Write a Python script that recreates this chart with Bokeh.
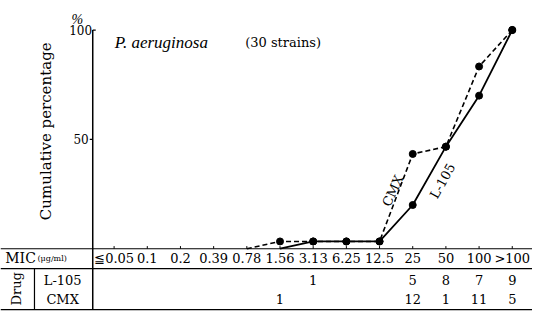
import numpy as np
from bokeh.plotting import figure
from bokeh.models import Range1d
from bokeh.core.properties import value
from bokeh.embed import file_html
from bokeh.resources import INLINE

# ---- data ----
mic_labels = ["≦0.05", "0.1", "0.2", "0.39", "0.78", "1.56", "3.13", "6.25",
              "12.5", "25", "50", "100", ">100"]
l105_counts = [0, 0, 0, 0, 0, 0, 1, 0, 0, 5, 8, 7, 9]
cmx_counts = [0, 0, 0, 0, 0, 1, 0, 0, 0, 12, 1, 11, 5]
n_strains = 30
y_ticks = [50, 100]
y_tick_labels = ["50", "100"]

FONT = value("DejaVu Serif")
IFONT = value("Liberation Serif, serif")


def cumulative(counts):
    c = np.cumsum(counts) / n_strains * 100.0
    first = next(i for i, v in enumerate(counts) if v > 0)
    line_idx = list(range(first - 1, len(counts)))
    line_y = [0.0] + list(c[first:])
    mark_idx = list(range(first, len(counts)))
    mark_y = list(c[first:])
    return line_idx, line_y, mark_idx, mark_y


p = figure(width=532, height=311, output_backend="svg", toolbar_location=None,
           x_range=Range1d(-3.424, 12.61), y_range=Range1d(-28.7, 113.5),
           min_border=0, min_border_left=0, min_border_right=0,
           min_border_top=0, min_border_bottom=0)
p.axis.visible = False
p.grid.visible = False
p.outline_line_color = None
p.background_fill_color = "white"

n = len(mic_labels)
xs = list(range(n))
X_AXIS = -0.644
X_LEFT, X_RIGHT = -3.424, 12.61
Y_MIC_LINE = -9.1
Y_BOTTOM = -27.8

# ---- axes/table lines ----
p.segment(x0=[X_AXIS], y0=[100], x1=[X_AXIS], y1=[Y_BOTTOM], line_color="black", line_width=1.5)
p.segment(x0=[X_LEFT, X_LEFT, X_LEFT], y0=[0, Y_MIC_LINE, Y_BOTTOM],
          x1=[X_RIGHT, X_RIGHT, X_RIGHT], y1=[0, Y_MIC_LINE, Y_BOTTOM],
          line_color="black", line_width=1.2)
p.segment(x0=[-2.40], y0=[Y_MIC_LINE], x1=[-2.40], y1=[Y_BOTTOM], line_color="black", line_width=1.2)
# x ticks
p.segment(x0=xs, y0=[0] * n, x1=xs, y1=[1.2] * n, line_color="black", line_width=1)
# y ticks
p.segment(x0=[X_AXIS - 0.09, X_AXIS], y0=y_ticks, x1=[X_AXIS, X_AXIS + 0.09], y1=y_ticks,
          line_color="black", line_width=1.2)
p.text(x=[X_AXIS - 0.12, X_AXIS - 0.02], y=y_ticks, text=y_tick_labels, text_font=FONT,
       text_font_size=value("12px"), text_align="right", text_baseline="middle")
p.text(x=[-1.11], y=[105.0], text=["%"], text_font=IFONT, text_font_style="italic",
       text_font_size=value("14px"), text_align="center", text_baseline="middle")
p.text(x=[-2.05], y=[54.8], text=["Cumulative  percentage"], text_font=FONT, angle=np.pi / 2,
       text_font_size=value("15px"), text_align="center", text_baseline="middle")

# ---- title ----
p.text(x=[0.02], y=[94.3], text=["P. aeruginosa"], text_font=IFONT, text_font_style="italic",
       text_font_size=value("17px"), text_align="left", text_baseline="middle")
p.text(x=[3.95], y=[94.3], text=["(30 strains)"], text_font=FONT,
       text_font_size=value("13px"), text_align="left", text_baseline="middle")

# ---- series ----
li, ly, mi, my = cumulative(l105_counts)
p.line(li, ly, line_color="black", line_width=1.8)
p.scatter(mi, my, size=7, color="black")
ci, cy, cmi, cmy = cumulative(cmx_counts)
p.line(ci, cy, line_color="black", line_width=1.6, line_dash="5 3")
p.scatter(cmi, cmy, size=7, color="black")

p.text(x=[8.4], y=[26.5], text=["CMX"], text_font=FONT, angle=np.radians(65),
       text_font_size=value("13px"), text_align="center", text_baseline="middle")
p.text(x=[9.9], y=[31.0], text=["L-105"], text_font=FONT, angle=np.radians(61),
       text_font_size=value("13px"), text_align="center", text_baseline="middle")

# ---- table ----
Y_MIC = -4.35
p.text(x=[-3.28], y=[Y_MIC], text=["MIC"], text_font=FONT, text_font_size=value("14px"),
       text_align="left", text_baseline="middle")
p.text(x=[-2.31], y=[Y_MIC], text=["(μg/ml)"], text_font=FONT, text_font_size=value("8px"),
       text_align="left", text_baseline="middle")
p.text(x=xs, y=[Y_MIC] * n, text=mic_labels, text_font=FONT, text_font_size=value("13px"),
       text_align="center", text_baseline="middle")

Y_L = -14.35
Y_C = -23.0
p.text(x=[-1.55, -1.55], y=[Y_L, Y_C], text=["L-105", "CMX"], text_font=FONT,
       text_font_size=value("13px"), text_align="center", text_baseline="middle")
p.text(x=[-2.93], y=[-18.3], text=["Drug"], text_font=FONT, angle=np.pi / 2,
       text_font_size=value("13px"), text_align="center", text_baseline="middle")
lx = [i for i, v in enumerate(l105_counts) if v > 0]
p.text(x=lx, y=[Y_L] * len(lx), text=[str(l105_counts[i]) for i in lx], text_font=FONT,
       text_font_size=value("13px"), text_align="center", text_baseline="middle")
cx = [i for i, v in enumerate(cmx_counts) if v > 0]
p.text(x=cx, y=[Y_C] * len(cx), text=[str(cmx_counts[i]) for i in cx], text_font=FONT,
       text_font_size=value("13px"), text_align="center", text_baseline="middle")

open("out.html", "w").write(file_html(p, INLINE))
